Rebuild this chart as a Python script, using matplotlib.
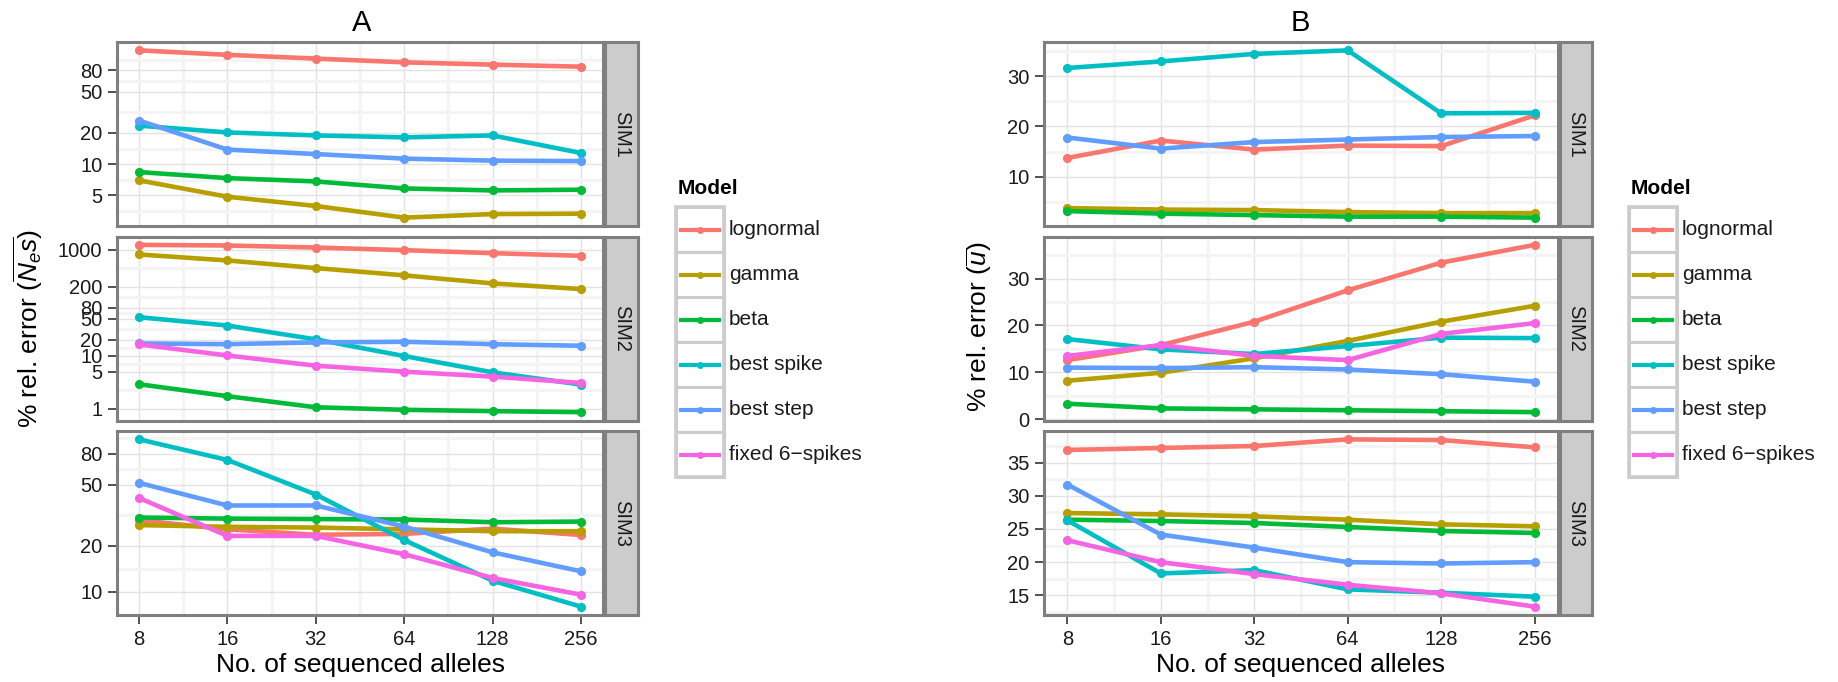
import numpy as np
import matplotlib
matplotlib.use("Agg")
import matplotlib.pyplot as plt
from matplotlib.patches import Rectangle
from matplotlib.lines import Line2D
from matplotlib.ticker import FixedLocator, FuncFormatter, NullFormatter

plt.rcParams['font.family'] = ['Liberation Sans', 'DejaVu Sans']
plt.rcParams['mathtext.fontset'] = 'custom'
plt.rcParams['mathtext.rm'] = 'Liberation Sans'
plt.rcParams['mathtext.it'] = 'Liberation Sans:italic'

# ---------------- data ----------------
alleles = [8, 16, 32, 64, 128, 256]
models = ['lognormal', 'gamma', 'beta', 'best spike', 'best step', 'fixed 6-spikes']
model_labels = ['lognormal', 'gamma', 'beta', 'best spike', 'best step', 'fixed 6\u2212spikes']
colors = ['#F8766D', '#B79F00', '#00BA38', '#00BFC4', '#619CFF', '#F564E3']
sims = ['SIM1', 'SIM2', 'SIM3']

a_sim1 = {
    'lognormal': [124.8, 113, 104, 95.7, 90.9, 86.9],
    'gamma': [6.97, 4.85, 3.95, 3.05, 3.30, 3.33],
    'beta': [8.38, 7.33, 6.81, 5.83, 5.58, 5.67],
    'best spike': [23.5, 20.2, 18.9, 18.1, 18.9, 12.8],
    'best step': [26.3, 13.8, 12.5, 11.3, 10.8, 10.7],
}
a_sim2 = {
    'lognormal': [1223, 1189, 1090, 972, 853, 761],
    'gamma': [806, 622, 447, 326, 230, 180],
    'beta': [2.90, 1.73, 1.07, 0.958, 0.904, 0.866],
    'best spike': [53.1, 37.0, 20.3, 9.86, 4.87, 2.86],
    'best step': [17.0, 16.5, 17.8, 18.3, 16.5, 15.4],
    'fixed 6-spikes': [16.3, 10.1, 6.49, 5.01, 4.04, 3.07],
}
a_sim3 = {
    'lognormal': [29.4, 25.6, 23.6, 23.9, 25.9, 23.5],
    'gamma': [27.3, 26.6, 26.3, 25.6, 24.9, 24.9],
    'beta': [30.6, 30.1, 29.9, 29.7, 28.5, 28.8],
    'best spike': [99.5, 72.9, 43.3, 21.8, 11.8, 7.98],
    'best step': [51.6, 36.7, 36.7, 26.7, 18.1, 13.6],
    'fixed 6-spikes': [41.1, 23.2, 23.2, 17.6, 12.3, 9.56],
}
b_sim1 = {
    'lognormal': [13.75, 17.2, 15.4, 16.2, 16.1, 22.2],
    'gamma': [3.8, 3.5, 3.4, 3.0, 2.8, 2.8],
    'beta': [3.2, 2.7, 2.4, 2.1, 2.1, 1.9],
    'best spike': [31.6, 32.9, 34.4, 35.1, 22.6, 22.7],
    'best step': [17.8, 15.6, 16.9, 17.4, 17.9, 18.1],
}
b_sim2 = {
    'lognormal': [12.6, 15.8, 20.8, 27.5, 33.4, 37.2],
    'gamma': [8.2, 9.9, 13.0, 16.7, 20.8, 24.2],
    'beta': [3.3, 2.3, 2.1, 1.9, 1.7, 1.5],
    'best spike': [17.1, 14.9, 13.9, 15.6, 17.4, 17.3],
    'best step': [11.0, 10.9, 11.1, 10.6, 9.6, 8.0],
    'fixed 6-spikes': [13.5, 15.8, 13.5, 12.6, 18.2, 20.5],
}
b_sim3 = {
    'lognormal': [36.9, 37.2, 37.5, 38.5, 38.4, 37.3],
    'gamma': [27.4, 27.2, 26.9, 26.4, 25.7, 25.4],
    'beta': [26.4, 26.2, 25.9, 25.3, 24.7, 24.4],
    'best spike': [26.3, 18.3, 18.8, 15.9, 15.4, 14.8],
    'best step': [31.7, 24.15, 22.2, 20.0, 19.8, 20.0],
    'fixed 6-spikes': [23.3, 20.0, 18.2, 16.6, 15.3, 13.3],
}
a_yticks = [1, 5, 10, 20, 50, 80, 200, 1000]
b_yticks = [[10, 20, 30], [0, 10, 20, 30], [15, 20, 25, 30, 35]]

# ---------------- layout ----------------
W, H = 1838, 682
fig = plt.figure(figsize=(W / 100, H / 100), dpi=100)

BORDER = '#7f7f7f'
MAJ = '#e3e3e3'
MIN = '#f4f4f4'
TXT = '#1a1a1a'
LW = 3.3


def px_axes(x0, x1, y0, y1):
    return fig.add_axes([x0 / W, 1 - y1 / H, (x1 - x0) / W, (y1 - y0) / H])


def minor_breaks(majors_t, lim):
    b = sorted(m for m in majors_t if lim[0] <= m <= lim[1])
    if len(b) >= 2:
        if lim[0] < b[0]:
            b = [b[0] - (b[1] - b[0])] + b
        if lim[1] > b[-1]:
            b = b + [b[-1] + (b[-1] - b[-2])]
    mids = [(b[i] + b[i + 1]) / 2 for i in range(len(b) - 1)]
    return [m for m in mids if lim[0] <= m <= lim[1]]


def fmt(v, pos=None):
    return '%g' % v


rows_y = [(42, 226), (236.5, 420.5), (431, 615)]


def draw_facet(panel_x, strip_x, datasets, logy, tick_sets):
    for r, (d, (y0, y1)) in enumerate(zip(datasets, rows_y)):
        ax = px_axes(panel_x[0], panel_x[1], y0, y1)
        ax.set_axisbelow(True)
        for i, m in enumerate(models):
            if m in d:
                ax.plot(alleles, d[m], color=colors[i], lw=LW, zorder=3,
                        solid_capstyle='round', solid_joinstyle='round')
        for i, m in enumerate(models):
            if m in d:
                ax.plot(alleles, d[m], 'o', ms=6.6, color=colors[i], zorder=4,
                        markeredgewidth=0)
        # x scale (log2)
        ax.set_xscale('log', base=2)
        ax.set_xlim(alleles[0] * 2 ** -0.25, alleles[-1] * 2 ** 0.25)
        lx = list(np.log2(alleles))
        xmins = minor_breaks(lx, (lx[0] - 0.25, lx[-1] + 0.25))
        ax.xaxis.set_major_locator(FixedLocator(alleles))
        ax.xaxis.set_minor_locator(FixedLocator([2.0 ** m for m in xmins]))
        ax.xaxis.set_major_formatter(FuncFormatter(fmt))
        ax.xaxis.set_minor_formatter(NullFormatter())
        # y scale
        allv = np.concatenate([np.asarray(v, float) for v in d.values()])
        ticks = tick_sets if logy else tick_sets[r]
        if logy:
            t = np.log10(allv)
            lo, hi = t.min(), t.max()
            e = 0.05 * (hi - lo)
            lim = (lo - e, hi + e)
            ax.set_yscale('log')
            ax.set_ylim(10 ** lim[0], 10 ** lim[1])
            maj_t = [np.log10(v) for v in ticks]
            vis = [v for v in ticks if lim[0] <= np.log10(v) <= lim[1]]
            mins = [10 ** m for m in minor_breaks(maj_t, lim)]
        else:
            lo, hi = allv.min(), allv.max()
            e = 0.05 * (hi - lo)
            lim = (lo - e, hi + e)
            ax.set_ylim(*lim)
            vis = [v for v in ticks if lim[0] <= v <= lim[1]]
            mins = minor_breaks(list(ticks), lim)
        ax.yaxis.set_major_locator(FixedLocator(vis))
        ax.yaxis.set_minor_locator(FixedLocator(mins))
        ax.yaxis.set_major_formatter(FuncFormatter(fmt))
        ax.yaxis.set_minor_formatter(NullFormatter())
        ax.grid(which='major', color=MAJ, lw=1.0)
        ax.grid(which='minor', color=MIN, lw=2.2)
        ax.tick_params(which='minor', length=0)
        ax.tick_params(which='major', length=6.5, width=1.2, color='#333333',
                       labelsize=14.5, labelcolor=TXT, pad=4)
        if r < 2:
            ax.tick_params(axis='x', which='major', length=0, labelbottom=False)
        else:
            ax.set_xlabel('No. of sequenced alleles', fontsize=19, color='black',
                          labelpad=3)
        for s in ax.spines.values():
            s.set_color(BORDER)
            s.set_linewidth(2.2)
        # strip
        sx = px_axes(strip_x[0], strip_x[1], y0, y1)
        sx.set_facecolor('#cccccc')
        sx.set_xticks([])
        sx.set_yticks([])
        for s in sx.spines.values():
            s.set_color(BORDER)
            s.set_linewidth(2.2)
        sx.text(0.5, 0.5, sims[r], rotation=270, ha='center', va='center',
                fontsize=14.5, color=TXT, transform=sx.transAxes)


draw_facet((117, 603), (605, 638), [a_sim1, a_sim2, a_sim3], True, a_yticks)
draw_facet((1044, 1558), (1560, 1592), [b_sim1, b_sim2, b_sim3], False, b_yticks)

# ---------------- overlay: titles, y labels, legends ----------------
ov = fig.add_axes([0, 0, 1, 1], zorder=-1)
ov.set_xlim(0, W)
ov.set_ylim(H, 0)
ov.axis('off')

ov.text(362, 23, 'A', ha='center', va='center', fontsize=21)
ov.text(1300, 23, 'B', ha='center', va='center', fontsize=21)
ov.text(28, 329, r'% rel. error ($\overline{N_e s}$)', rotation=90,
        ha='center', va='center', fontsize=19)
ov.text(979, 327, r'% rel. error ($\overline{u}$)', rotation=90,
        ha='center', va='center', fontsize=19)


def draw_legend(x0, y0):
    kw, kh = 48, 45
    ov.text(x0 + 2, y0 - 18, 'Model', ha='left', va='center', fontsize=15,
            fontweight='bold')
    for i, lab in enumerate(model_labels):
        ky = y0 + i * kh
        ov.add_patch(Rectangle((x0, ky), kw, kh, facecolor='white',
                               edgecolor='#cccccc', lw=2.2))
        cy = ky + kh / 2
        ov.add_line(Line2D([x0 + 5, x0 + kw - 5], [cy, cy], color=colors[i],
                           lw=3.0))
        ov.add_line(Line2D([x0 + kw / 2], [cy], marker='o', ms=5,
                           color=colors[i], markeredgewidth=0))
        ov.text(x0 + kw + 5, cy, lab, ha='left', va='center', fontsize=15,
                color=TXT)
    ov.add_patch(Rectangle((x0, y0), kw, kh * len(model_labels), fill=False,
                           edgecolor='#cccccc', lw=2.6))


draw_legend(676, 207)
draw_legend(1629, 207)

fig.savefig('out.png', dpi=100)
